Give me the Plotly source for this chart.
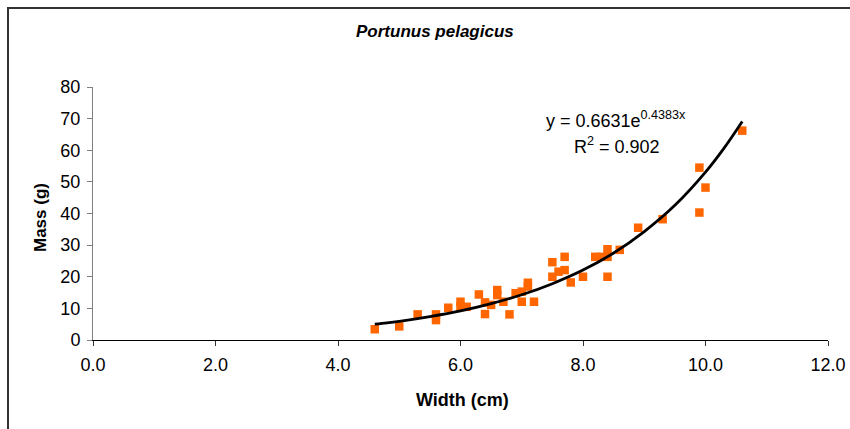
import plotly.graph_objects as go

# Scatter data
width_cm = [4.6, 5.0, 5.3, 5.6, 5.6, 5.8, 6.0, 6.0, 6.1, 6.3, 6.4, 6.4, 6.5, 6.6, 6.6,
            6.7, 6.8, 6.9, 7.0, 7.0, 7.1, 7.1, 7.2, 7.5, 7.5, 7.6, 7.7, 7.7, 7.8, 8.0,
            8.2, 8.3, 8.4, 8.4, 8.4, 8.6, 8.9, 9.3, 9.9, 10.0, 9.9, 10.6]
mass_g = [3.4, 4.3, 8.1, 6.3, 8.1, 10.2, 12.1, 10.5, 10.5, 14.4, 11.9, 8.2, 11.1, 15.8, 14.2,
          12.1, 8.1, 14.8, 15.3, 12.1, 18.1, 16.9, 12.1, 24.6, 20.0, 21.6, 26.3, 22.1, 18.2, 20.0,
          26.3, 26.3, 28.7, 26.3, 20.0, 28.5, 35.5, 38.2, 54.5, 48.2, 40.3, 66.2]

# Trendline points read along the drawn exponential trendline
trend_x = [4.6, 4.8, 5.0, 5.5, 6.0, 6.5, 7.0, 7.5, 8.0, 8.5, 9.0, 9.5, 10.0, 10.3, 10.6]
trend_y = [5.0, 5.4, 5.9, 7.4, 9.2, 11.5, 14.3, 17.8, 22.1, 27.5, 34.3, 42.6, 53.1, 60.6, 69.1]

x_ticks = [0, 2, 4, 6, 8, 10, 12]
x_tick_labels = ["0.0", "2.0", "4.0", "6.0", "8.0", "10.0", "12.0"]
y_ticks = [0, 10, 20, 30, 40, 50, 60, 70, 80]

fig = go.Figure()
fig.add_trace(go.Scatter(
    x=width_cm, y=mass_g, mode="markers",
    marker=dict(symbol="square", size=8.5, color="#FF6600", line=dict(width=0)),
    showlegend=False, cliponaxis=False))
fig.add_trace(go.Scatter(
    x=trend_x, y=trend_y, mode="lines", line=dict(color="black", width=2.8, shape="spline"),
    showlegend=False))

font_family = "Liberation Sans, Arial, sans-serif"
L, R, T, B = 93, 22, 87, 89
PW, PH = 850 - L - R, 429 - T - B


def px(x):
    return (x - L) / PW


def py(y):
    return (429 - B - y) / PH


fig.update_layout(
    width=850, height=429,
    margin=dict(l=L, r=R, t=T, b=B, autoexpand=False),
    paper_bgcolor="white", plot_bgcolor="white",
    font=dict(family=font_family, color="black", size=18),
    xaxis=dict(range=[0, 12], tickvals=x_ticks, ticktext=x_tick_labels, automargin=False,
               showgrid=False, zeroline=False, showline=True, linecolor="black", linewidth=1,
               ticks="outside", ticklen=5, tickcolor="#333333", ticklabelstandoff=3,
               tickfont=dict(size=18)),
    yaxis=dict(range=[0, 80], tickvals=y_ticks, automargin=False,
               showgrid=False, zeroline=False, showline=True, linecolor="#808080", linewidth=1,
               ticks="outside", ticklen=5, tickcolor="#808080", ticklabelstandoff=3,
               tickfont=dict(size=18)),
    shapes=[dict(type="rect", xref="paper", yref="paper",
                 x0=px(8), x1=px(1000),
                 y0=py(600), y1=py(8),
                 line=dict(color="#333333", width=2), fillcolor="rgba(0,0,0,0)", layer="below")],
    annotations=[
        dict(text="<b><i>Portunus pelagicus</i></b>", x=px(435), y=py(32),
             xref="paper", yref="paper", xanchor="center", yanchor="middle", showarrow=False,
             font=dict(size=17)),
        dict(text="<b>Width (cm)</b>", x=px(462), y=py(400),
             xref="paper", yref="paper", xanchor="center", yanchor="middle", showarrow=False,
             font=dict(size=18)),
        dict(text="<b>Mass (g)</b>", x=px(40), y=py(218), textangle=-90,
             xref="paper", yref="paper", xanchor="center", yanchor="middle", showarrow=False,
             font=dict(size=17)),
        dict(text="y = 0.6631e<sup>0.4383x</sup>", x=px(544), y=py(119),
             xref="paper", yref="paper", xanchor="left", yanchor="middle", showarrow=False,
             font=dict(size=18)),
        dict(text="R<sup>2</sup> = 0.902", x=px(572), y=py(145),
             xref="paper", yref="paper", xanchor="left", yanchor="middle", showarrow=False,
             font=dict(size=18)),
    ],
)

fig.write_html("out.html")
